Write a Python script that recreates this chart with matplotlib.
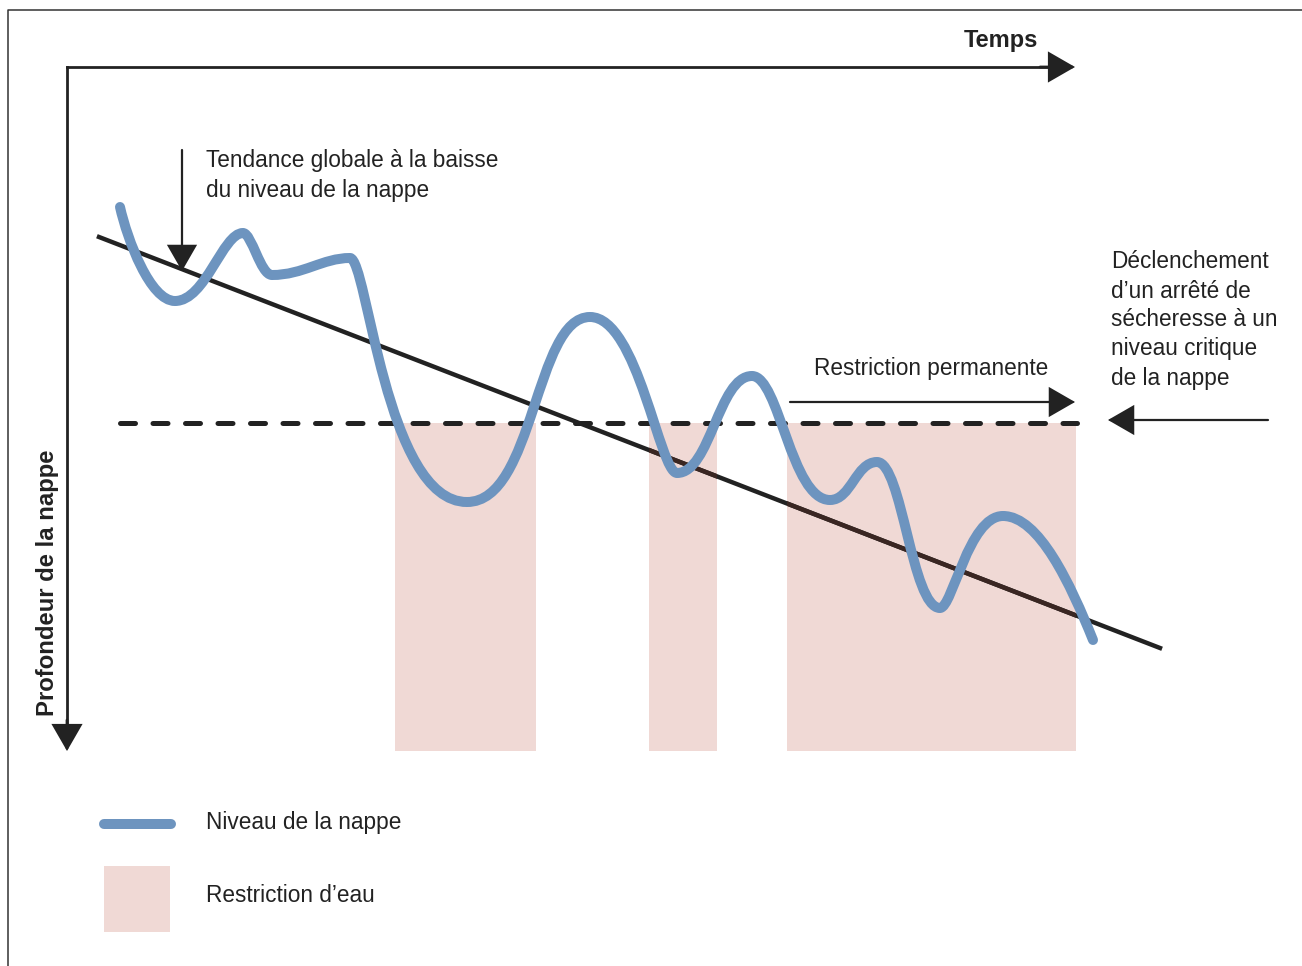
import matplotlib.pyplot as plt
from matplotlib.path import Path
from matplotlib.patches import PathPatch, Rectangle

plt.rcParams['font.family'] = ['Liberation Sans', 'DejaVu Sans']

# niveau de la nappe : début, extrêmes successifs, fin (x = temps, y = profondeur)
nappe_x = [120, 175, 243, 272, 350, 467, 590, 677, 752, 830, 877, 940, 1003, 1093]
nappe_y = [207, 301, 233, 275, 258, 502, 317, 473, 376, 500, 462, 608, 516, 640]
# forme de chaque tronçon (part de la largeur occupée par les tangentes gauche / droite)
forme_g = [0.27, 0.45, 0.30, 0.40, 0.15, 0.55, 0.55, 0.45, 0.35, 0.45, 0.40, 0.20, 0.40]
forme_d = [0.45, 0.30, 0.40, 0.35, 0.70, 0.45, 0.20, 0.45, 0.50, 0.45, 0.45, 0.55, 0.25]

# tendance globale
tendance_x = [99, 1160]
tendance_y = [237, 648]

# seuil critique et périodes de restriction
seuil_y = 423
seuil_x = [120, 1077]
restr_debut = [395, 649, 787]
restr_fin = [536, 717, 1076]
restr_bas = 751

bleu = '#6d94bf'
rose = '#f0d9d5'
noir = '#222222'

fig = plt.figure(figsize=(13.02, 9.66), dpi=100)
ax = fig.add_axes([0, 0, 1, 1])
ax.set_xlim(0, 1302)
ax.set_ylim(966, 0)
ax.axis('off')

# cadre
ax.plot([8, 8, 1302], [966, 10, 10], color='#333333', lw=1.1)


def fleche(x0, y0, x1, y1, lw, hl=1.65, hw=0.95):
    ax.annotate('', xy=(x1, y1), xytext=(x0, y0),
                arrowprops=dict(arrowstyle='-|>,head_length=%g,head_width=%g' % (hl, hw),
                                mutation_scale=10, lw=lw, color=noir, fc=noir,
                                shrinkA=0, shrinkB=0, joinstyle='miter'), zorder=6)


# axes
ax.plot([67, 1058], [67, 67], color=noir, lw=2.0, solid_capstyle='projecting')
ax.plot([67, 67], [67, 730], color=noir, lw=2.0, solid_capstyle='projecting')
fleche(1040, 67, 1075, 67, 2.0)
fleche(67, 720, 67, 751, 2.0)

ax.text(1038, 40, 'Temps', ha='right', va='center', fontsize=17, fontweight='bold', color=noir)
ax.text(48, 583, 'Profondeur de la nappe', ha='center', va='center', rotation=90,
        fontsize=17.2, fontweight='bold', color=noir)

# restrictions
boites = []
for x0, x1 in zip(restr_debut, restr_fin):
    r = Rectangle((x0, seuil_y), x1 - x0, restr_bas - seuil_y, color=rose, lw=0, zorder=1)
    ax.add_patch(r)
    boites.append(r)

# tendance (plus brune à travers les restrictions)
ax.plot(tendance_x, tendance_y, color=noir, lw=3.2, zorder=2)
for r in boites:
    seg, = ax.plot(tendance_x, tendance_y, color='#3a2622', lw=3.2, zorder=2.5)
    seg.set_clip_path(r)

# seuil critique
ax.plot(seuil_x, [seuil_y, seuil_y], color=noir, lw=3.6, dash_capstyle='round',
        linestyle=(0, (3.0, 3.5)), zorder=4)

# niveau de la nappe : tronçons de Bézier à tangentes horizontales aux extrêmes
n = len(nappe_x)
verts = [(nappe_x[0], nappe_y[0])]
codes = [Path.MOVETO]
for i in range(n - 1):
    xa, ya, xb, yb = nappe_x[i], nappe_y[i], nappe_x[i + 1], nappe_y[i + 1]
    dx = xb - xa
    c1 = (xa + forme_g[i] * dx, ya)
    c2 = (xb - forme_d[i] * dx, yb)
    if i == 0:  # départ en pente
        c1 = (xa + forme_g[i] * dx * 0.5, ya + 0.35 * (yb - ya))
    if i == n - 2:  # arrivée en pente
        c2 = (xb - forme_d[i] * dx, yb - 0.45 * (yb - ya))
    verts += [c1, c2, (xb, yb)]
    codes += [Path.CURVE4] * 3
ax.add_patch(PathPatch(Path(verts, codes), fill=False, edgecolor=bleu, lw=7.2,
                       capstyle='round', joinstyle='round', zorder=5))

# annotations
fs = 16.3
fleche(182, 150, 182, 271, 1.6)
ax.text(206, 160, 'Tendance globale à la baisse', ha='left', va='center', fontsize=fs, color=noir)
ax.text(206, 190, 'du niveau de la nappe', ha='left', va='center', fontsize=fs, color=noir)

fleche(790, 402, 1075, 402, 1.6)
ax.text(931, 368, 'Restriction permanente', ha='center', va='center', fontsize=fs, color=noir)

fleche(1268, 420, 1108, 420, 1.6)
decl = ['Déclenchement', 'd’un arrêté de', 'sécheresse à un', 'niveau critique', 'de la nappe']
for i, ligne in enumerate(decl):
    ax.text(1111, 262 + 29 * i, ligne, ha='left', va='center', fontsize=fs, color=noir)

# légende
ax.plot([104, 171], [824, 824], color=bleu, lw=7.2, solid_capstyle='round')
ax.text(206, 823, 'Niveau de la nappe', ha='left', va='center', fontsize=fs, color=noir)
ax.add_patch(Rectangle((104, 866), 66, 66, color=rose, lw=0))
ax.text(206, 896, 'Restriction d’eau', ha='left', va='center', fontsize=fs, color=noir)

fig.savefig('out.png', dpi=100)
